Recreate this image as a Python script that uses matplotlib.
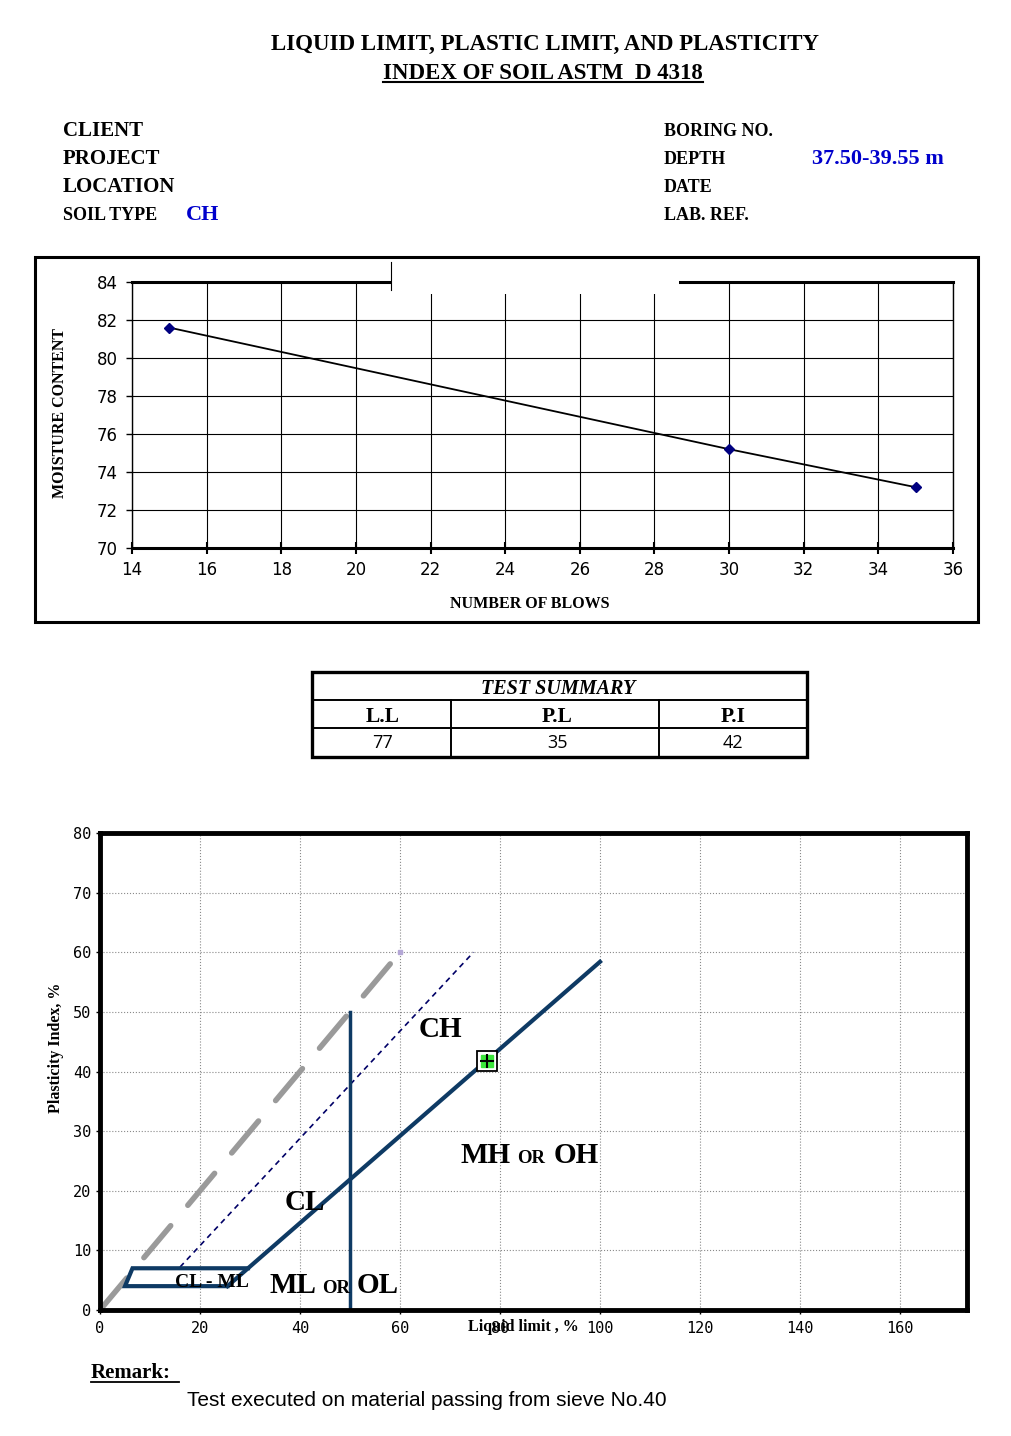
import matplotlib
matplotlib.use("Agg")
import matplotlib.pyplot as plt
from matplotlib.patches import Rectangle
from matplotlib.lines import Line2D

# flow curve: number of blows vs moisture content
blows = [15, 30, 35]
moisture = [81.6, 75.2, 73.2]

# test summary table
summary_title = "TEST SUMMARY"
summary_heads = ["L.L", "P.L", "P.I"]
summary_values = ["77", "35", "42"]

# plasticity chart
sample_ll = [77.4]
sample_pi = [41.7]
upper_x = [0, 60]          # grey dashed limit
upper_y = [0, 60]
u_line_x = [16, 74.7]      # fine dashed line
u_line_y = [7.2, 60]
a_line_x = [25.5, 100]
a_line_y = [4, 58.4]
clml_x = [25.5, 5, 6.5, 29.6]
clml_y = [4, 4, 7, 7]
ll50_x = [50, 50]
ll50_y = [0, 50]

W, H = 1012, 1436
SERIF = "Liberation Serif"
BLUE = "#0000CC"
NAVY = "#0E3A64"


def fx(x):
    return x / W


def fy(y):
    return 1 - y / H


def put(x, y, s, size, ha="left", **kw):
    fig.text(fx(x), fy(y), s, fontsize=size, ha=ha, va="center_baseline", **kw)


def hline(x0, x1, y, lw):
    fig.add_artist(Line2D([fx(x0), fx(x1)], [fy(y), fy(y)], color="black", lw=lw,
                          transform=fig.transFigure, zorder=6))


def vline(x, y0, y1, lw):
    fig.add_artist(Line2D([fx(x), fx(x)], [fy(y0), fy(y1)], color="black", lw=lw,
                          transform=fig.transFigure, zorder=6))


def box(x0, y0, x1, y1, lw, face="none", z=6):
    fig.add_artist(Rectangle((fx(x0), fy(y1)), fx(x1) - fx(x0), fy(y0) - fy(y1),
                             transform=fig.transFigure, fill=(face != "none"),
                             facecolor=face, edgecolor="black" if face == "none" else face,
                             lw=lw, zorder=z))


fig = plt.figure(figsize=(W / 100, H / 100), dpi=100)

# ---- header
put(545, 42, "LIQUID LIMIT, PLASTIC LIMIT, AND PLASTICITY", 16.5, ha="center",
    family=SERIF, weight="bold")
put(543, 71, "INDEX OF SOIL ASTM  D 4318", 16.5, ha="center", family=SERIF, weight="bold")
hline(383, 703, 82, 1.5)

for txt, y, sz in [("CLIENT", 129, 15), ("PROJECT", 156, 15), ("LOCATION", 184, 15),
                   ("SOIL TYPE", 214, 13)]:
    put(63, y, txt, sz, family=SERIF, weight="bold")
for txt, y in [("BORING NO.", 130), ("DEPTH", 157), ("DATE", 185), ("LAB. REF.", 214)]:
    put(664, y, txt, 13, family=SERIF, weight="bold")
put(186, 213, "CH", 16, family=SERIF, weight="bold", color=BLUE)
put(812, 157, "37.50-39.55 m", 16, family=SERIF, weight="bold", color=BLUE)

# ---- flow curve
ax1 = fig.add_axes([fx(132), fy(548), (953 - 132) / W, (548 - 282) / H])
ax1.plot(blows, moisture, color="black", lw=1.3, marker="D", ms=5.5,
         mfc="#000080", mec="#000080", zorder=3)
ax1.set_xlim(14, 36)
ax1.set_ylim(70, 84)
ax1.set_xticks(range(14, 37, 2))
ax1.set_yticks(range(70, 85, 2))
ax1.grid(True, color="black", lw=0.8)
ax1.set_axisbelow(True)
for side, lw in [("top", 2.2), ("bottom", 2.2), ("left", 1.0), ("right", 1.0)]:
    ax1.spines[side].set_linewidth(lw)
ax1.tick_params(axis="x", direction="inout", length=9, width=1.5, labelsize=12, pad=5)
ax1.tick_params(axis="y", direction="out", length=4, width=1, labelsize=12, pad=6)

put(530, 602, "NUMBER OF BLOWS", 11.5, ha="center", family=SERIF, weight="bold")
fig.text(fx(60), fy(413), "MOISTURE CONTENT", fontsize=11.5, family=SERIF, weight="bold",
         rotation=90, ha="center", va="center")

box(35, 257, 978, 622, 2.2, z=7)
box(391, 259, 679, 294, 0, face="white", z=5)
vline(391, 262, 290, 0.8)

# ---- summary table
box(312, 672, 807, 757, 2.4)
hline(312, 807, 699.5, 1.4)
hline(312, 807, 728, 1.4)
vline(451, 699.5, 757, 1.4)
vline(659, 699.5, 757, 1.4)
put(558, 686, summary_title, 14.5, ha="center", family=SERIF, weight="bold", style="italic")
for cx, head, val in zip([383, 557, 733], summary_heads, summary_values):
    put(cx, 715, head, 15.5, ha="center", family=SERIF, weight="bold")
    put(cx, 741, val, 13, ha="center", family="Open Sans")

# ---- plasticity chart
ax2 = fig.add_axes([fx(100), fy(1310), 867 / W, 477 / H])
ax2.set_xlim(0, 173.4)
ax2.set_ylim(0, 80)
ax2.set_xticks(range(0, 161, 20))
ax2.set_yticks(range(0, 81, 10))
ax2.grid(True, color="#8a8a8a", lw=0.8, linestyle=":")
ax2.set_axisbelow(True)
for side in ax2.spines:
    ax2.spines[side].set_linewidth(3.5)
ax2.tick_params(axis="both", direction="out", length=3, width=1, labelsize=11)
ax2.tick_params(axis="x", pad=5)
ax2.tick_params(axis="y", pad=3.5)
for lab in ax2.get_xticklabels() + ax2.get_yticklabels():
    lab.set_family("DejaVu Sans Mono")

ax2.plot(upper_x, upper_y, color="#9a9a9a", lw=4, linestyle=(0, (7.5, 4.8)),
         dash_capstyle="round")
ax2.plot(upper_x, upper_y, ls="none", marker="s", ms=3.5, color="#B4A7D6")
ax2.plot(u_line_x, u_line_y, color="#000066", lw=1.2, linestyle=(0, (3.3, 2.7)))
ax2.plot(a_line_x, a_line_y, color=NAVY, lw=3)
ax2.plot(clml_x, clml_y, color=NAVY, lw=3, solid_joinstyle="miter")
ax2.plot(ll50_x, ll50_y, color=NAVY, lw=2.5)

ax2.plot(sample_ll, sample_pi, ls="none", marker="s", ms=14, mfc="white", mec="black",
         mew=1.3, zorder=5)
ax2.plot(sample_ll, sample_pi, ls="none", marker="s", ms=9, color="#3CE63C", zorder=6)
ax2.plot(sample_ll, sample_pi, ls="none", marker="+", ms=10, mew=1.5, color="black",
         zorder=7)

big = dict(family=SERIF, weight="bold", ha="center", va="center_baseline", color="black")
low = dict(family=SERIF, weight="bold", ha="center", va="baseline", color="black")
ax2.text(68.1, 47.6, "CH", fontsize=21, **big)
ax2.text(41.0, 18.6, "CL", fontsize=21, **big)
ax2.text(22.4, 5.0, "CL - ML", fontsize=14, **big)
ax2.text(77.1, 24.7, "MH", fontsize=21, **low)
ax2.text(86.2, 24.7, "OR", fontsize=13.5, **low)
ax2.text(95.2, 24.7, "OH", fontsize=21, **low)
ax2.text(38.5, 2.9, "ML", fontsize=21, **low)
ax2.text(47.2, 2.9, "OR", fontsize=13.5, **low)
ax2.text(55.5, 2.9, "OL", fontsize=21, **low)

fig.text(fx(56), fy(1048), "Plasticity Index, %", fontsize=11.5, family=SERIF,
         weight="bold", rotation=90, ha="center", va="center")
put(523, 1325, "Liquid limit , %", 11.5, ha="center", family=SERIF, weight="bold")

# ---- remark
put(91, 1370, "Remark:", 15, family=SERIF, weight="bold")
hline(91, 179, 1382, 1.3)
put(187, 1399, "Test executed on material passing from sieve No.40", 15,
    family="Liberation Sans")

fig.savefig("out.png", dpi=100)
